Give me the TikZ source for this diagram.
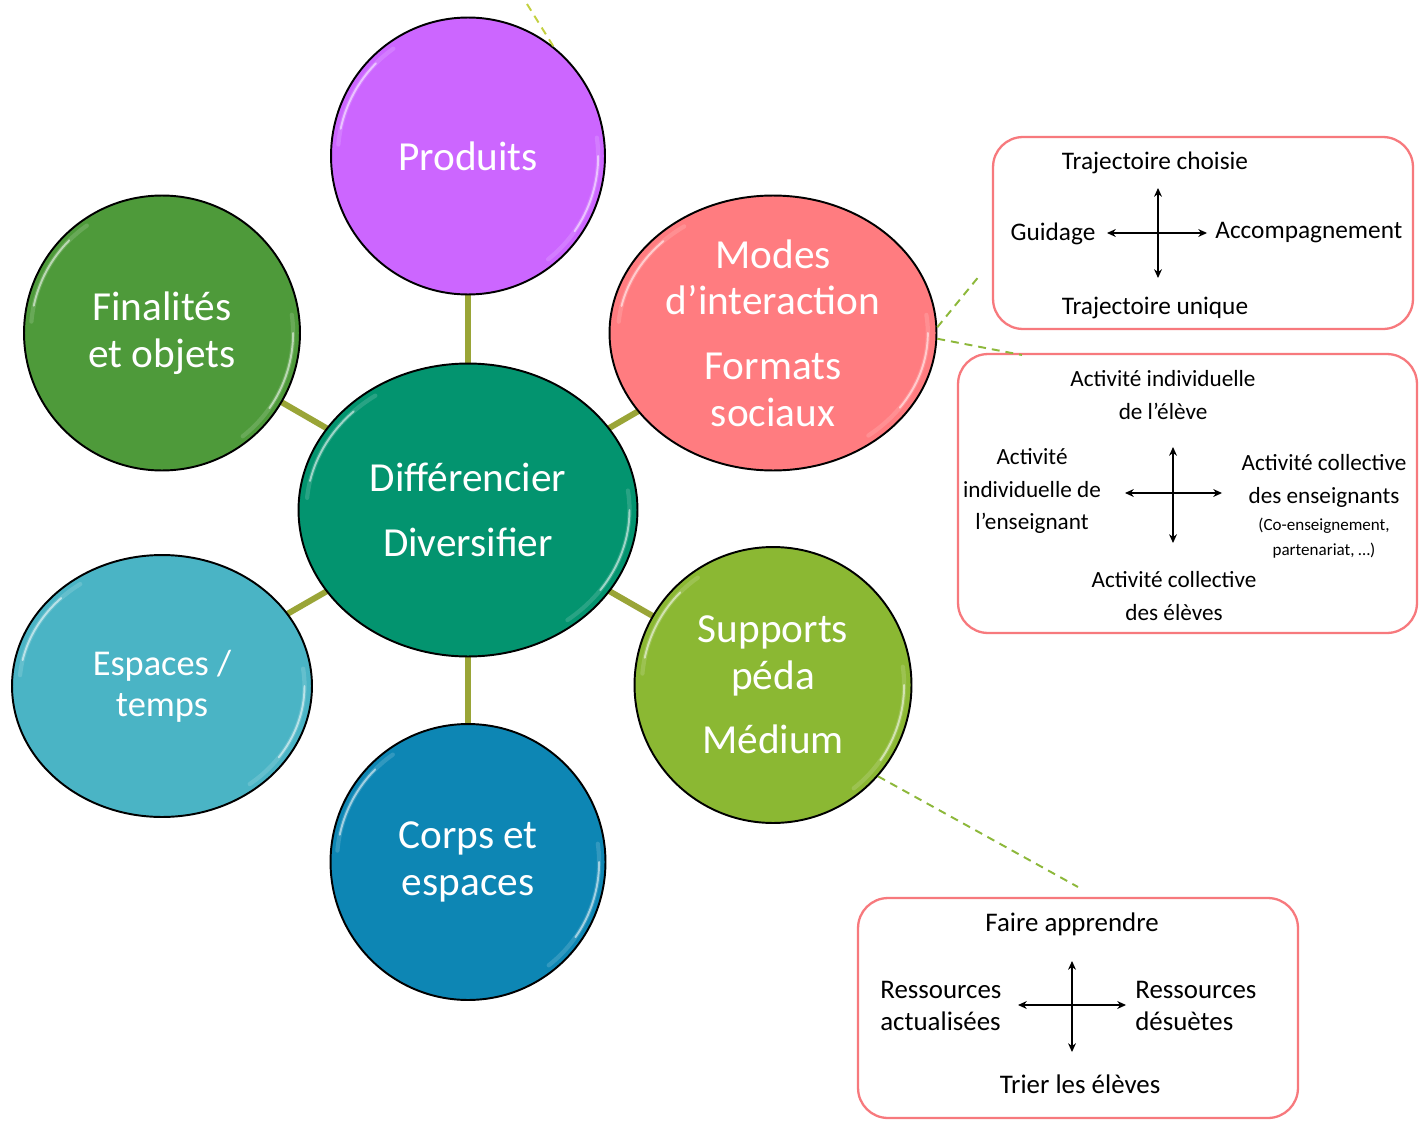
\documentclass[tikz,border=0pt]{standalone}
\usepackage{fontspec}
\setmainfont{Carlito}
\usetikzlibrary{shapes.geometric,arrows.meta,backgrounds}
\definecolor{cProd}{HTML}{CC66FF}
\definecolor{cFin}{HTML}{4E9A3A}
\definecolor{cModes}{HTML}{FF7C80}
\definecolor{cCent}{HTML}{03946F}
\definecolor{cEsp}{HTML}{4AB4C5}
\definecolor{cSup}{HTML}{8BB833}
\definecolor{cCorps}{HTML}{0D86B4}
\definecolor{cConn}{HTML}{9AA537}
\definecolor{cBox}{HTML}{F7797D}
\definecolor{cDashG}{HTML}{8DB83A}
\definecolor{cDashY}{HTML}{C3D03F}
\newcommand\glossy[4]{%
  \draw[gloss, line width=2.4pt, opacity=0.15] (#1,#2) ++(185:{0.95*#3} and {0.95*#4}) arc[start angle=185,end angle=235,x radius={0.95*#3},y radius={0.95*#4}];
  \draw[gloss, line width=1.1pt, opacity=0.55] (#1,#2) ++(192:{0.95*#3} and {0.95*#4}) arc[start angle=192,end angle=225,x radius={0.95*#3},y radius={0.95*#4}];
  \draw[gloss, line width=2.4pt, opacity=0.15] (#1,#2) ++(-8:{0.95*#3} and {0.95*#4}) arc[start angle=-8,end angle=52,x radius={0.95*#3},y radius={0.95*#4}];
  \draw[gloss, line width=1.1pt, opacity=0.55] (#1,#2) ++(0:{0.95*#3} and {0.95*#4}) arc[start angle=0,end angle=35,x radius={0.95*#3},y radius={0.95*#4}];
}
\begin{document}
\begin{tikzpicture}[x=0.02cm,y=-0.02cm,
  circ/.style={ellipse, draw=black, line width=1.1pt, inner sep=0pt, text=white, align=center,
    font=\fontsize{23.5}{26.6}\selectfont},
  gloss/.style={white, line cap=round},
  conn/.style={cConn, line width=3.4pt},
  boxr/.style={draw=cBox, line width=1.3pt, rounded corners=0.6cm, inner sep=0pt},
  dsh/.style={cDashG, line width=1.1pt, dash pattern=on 4.5pt off 3.4pt},
  arr/.style={{Stealth[length=5pt,width=4.5pt]}-{Stealth[length=5pt,width=4.5pt]}, line width=0.6pt},
  txa/.style={inner sep=0pt, align=center, font=\fontsize{14.4}{17}\selectfont},
  txb/.style={inner sep=0pt, align=center, font=\fontsize{13.2}{18.7}\selectfont},
  txs/.style={inner sep=0pt, align=center, font=\fontsize{9.7}{14.2}\selectfont},
  txc/.style={inner sep=0pt, align=center, font=\fontsize{15.3}{18.7}\selectfont}]
\useasboundingbox (0,0) rectangle (1422,1125);

% circles
\node[circ, fill=cProd, minimum width=5.48cm, minimum height=5.54cm] (prod) at (468,156) {Produits};
\node[circ, fill=cFin, minimum width=5.52cm, minimum height=5.5cm] (fin) at (162,333) {Finalités\\et objets};
\node[circ, fill=cModes, minimum width=6.54cm, minimum height=5.5cm] (modes) at (773,333) {Modes\\d’interaction\\[0.36cm]Formats\\sociaux};
\node[circ, fill=cCent, minimum width=6.78cm, minimum height=5.86cm,
  font=\fontsize{23.5}{36.9}\selectfont] (cent) at (468,510) {Différencier\\Diversifier};
\node[circ, fill=cEsp, minimum width=6.0cm, minimum height=5.24cm,
  font=\fontsize{20.7}{23.2}\selectfont] (esp) at (162,686) {Espaces /\\temps};
\node[circ, fill=cSup, minimum width=5.54cm, minimum height=5.52cm] (sup) at (773,685) {Supports\\péda\\[0.36cm]Médium};
\node[circ, fill=cCorps, minimum width=5.5cm, minimum height=5.52cm] (corps) at (468,862) {Corps et\\espaces};

\glossy{468}{156}{137}{138}
\glossy{162}{333}{138}{138}
\glossy{773}{333}{163}{137}
\glossy{468}{510}{170}{147}
\glossy{162}{686}{150}{131}
\glossy{773}{685}{138}{138}
\glossy{468}{862}{138}{138}

% boxes
\node[boxr, minimum width=8.4cm, minimum height=3.84cm] (box1) at (1203,233) {};
\node[boxr, minimum width=9.18cm, minimum height=5.58cm] (box2) at (1187.5,493.5) {};
\node[boxr, minimum width=8.8cm, minimum height=4.4cm] (box3) at (1078,1008) {};

% box 1
\node[txa] (b1n) at (1155,163) {Trajectoire choisie};
\node[txa] (b1s) at (1155,308) {Trajectoire unique};
\node[txa] (b1w) at (1053,234) {Guidage};
\node[txa, anchor=west] (b1e) at (1215,233) {Accompagnement};
\coordinate (b1t) at (1158,188); \coordinate (b1b) at (1158,278);
\coordinate (b1l) at (1107,233); \coordinate (b1r) at (1207,233);
\draw[arr] (b1t) -- (b1b);
\draw[arr] (b1l) -- (b1r);

% box 2
\node[txb] (b2n) at (1163,395) {Activité individuelle\\de l’élève};
\node[txb] (b2w) at (1032,491) {Activité\\individuelle de\\l’enseignant};
\node[txb] (b2e) at (1324,481) {Activité collective\\des enseignants};
\node[txs] (b2e2) at (1324,538) {(Co-enseignement,\\partenariat, …)};
\node[txb] (b2s) at (1174,596) {Activité collective\\des élèves};
\coordinate (b2t) at (1173,447); \coordinate (b2b) at (1173,543);
\coordinate (b2l) at (1125,493); \coordinate (b2r) at (1222,493);
\draw[arr] (b2t) -- (b2b);
\draw[arr] (b2l) -- (b2r);

% box 3
\node[txc] (b3n) at (1072,924) {Faire apprendre};
\node[txc] (b3s) at (1080,1084) {Trier les élèves};
\node[txc, anchor=west, align=left] (b3w) at (880,1006) {Ressources\\actualisées};
\node[txc, anchor=west, align=left] (b3e) at (1135,1006) {Ressources\\désuètes};
\coordinate (b3t) at (1072,961); \coordinate (b3b) at (1072,1052);
\coordinate (b3l) at (1018,1005); \coordinate (b3r) at (1126,1005);
\draw[arr] (b3t) -- (b3b);
\draw[arr] (b3l) -- (b3r);

% dashed leaders
\coordinate (topfree) at (527,4);
\coordinate (m1end) at (980,275);
\coordinate (m2end) at (1022,355);
\coordinate (s1end) at (1078,887);
\draw[dsh, cDashY] (topfree) -- (prod.52);
\draw[dsh] (modes.2) -- (m1end);
\draw[dsh] (modes.-2) -- (m2end);
\draw[dsh] (sup.-41) -- (s1end);

\begin{scope}[on background layer]
\fill[white] (0,0) rectangle (1422,1125);
\draw[conn] (prod.center) -- (cent.center);
\draw[conn] (corps.center) -- (cent.center);
\draw[conn] (fin.center) -- (cent.center);
\draw[conn] (modes.center) -- (cent.center);
\draw[conn] (esp.center) -- (cent.center);
\draw[conn] (sup.center) -- (cent.center);
\end{scope}
\end{tikzpicture}
\end{document}
